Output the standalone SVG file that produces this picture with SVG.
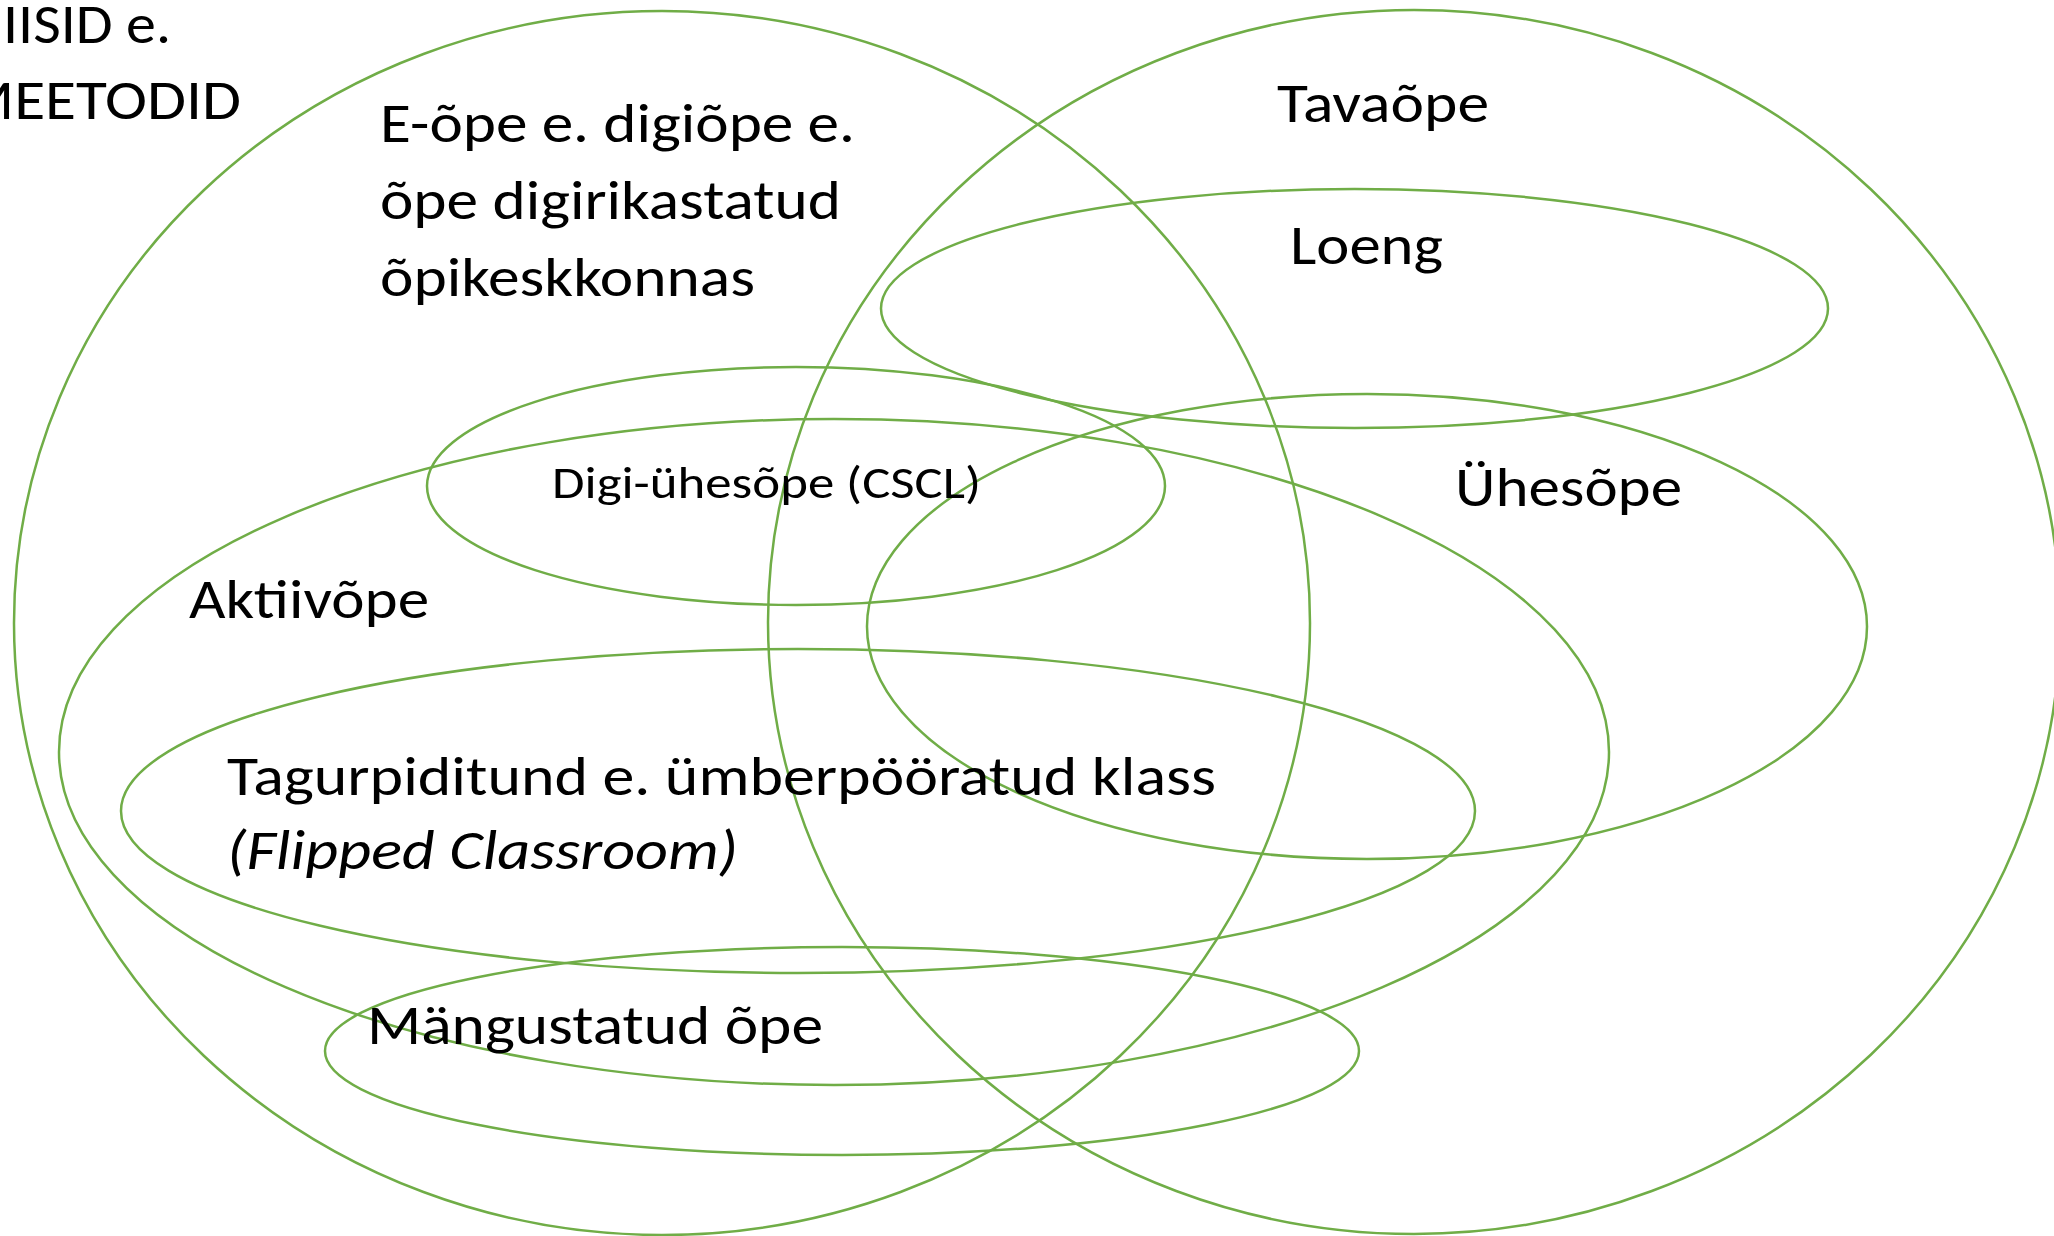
<svg xmlns="http://www.w3.org/2000/svg" width="2054" height="1236" viewBox="0 0 2054 1236">
  <style>
    .shape { fill: none; stroke: #70AD47; stroke-width: 2.5; }
    .lbl { font-family: Carlito, Calibri, Lato, sans-serif; font-size: 56px; fill: #000000; }
    .small { font-size: 45px; }
    .it { font-style: italic; }
  </style>
  <rect width="2054" height="1236" fill="#ffffff"/>
  <g id="nodes">
    <g id="e-ope"><ellipse class="shape" cx="662" cy="623" rx="648" ry="612"/></g>
    <g id="tavaope"><ellipse class="shape" cx="1414" cy="622" rx="646" ry="612"/></g>
    <g id="loeng"><ellipse class="shape" cx="1354.5" cy="308.5" rx="473.5" ry="119.5"/></g>
    <g id="digi-uhesope"><ellipse class="shape" cx="796" cy="486" rx="369" ry="119"/></g>
    <g id="uhesope"><ellipse class="shape" cx="1367" cy="626.5" rx="500" ry="232.5"/></g>
    <g id="aktiivope"><ellipse class="shape" cx="834" cy="752" rx="775" ry="333"/></g>
    <g id="tagurpiditund"><ellipse class="shape" cx="798" cy="811" rx="677" ry="162"/></g>
    <g id="mangustatud"><ellipse class="shape" cx="842" cy="1051" rx="517" ry="104"/></g>
  </g>
  <g id="connectors"/>
  <g id="labels">
    <g id="title-label">
      <text class="lbl" x="3" y="43" textLength="168" lengthAdjust="spacingAndGlyphs">IISID e.</text>
      <text class="lbl" x="-40" y="119" textLength="281" lengthAdjust="spacingAndGlyphs">MEETODID</text>
    </g>
    <g id="e-ope-label">
      <text class="lbl" x="380" y="142" textLength="475" lengthAdjust="spacingAndGlyphs">E-õpe e. digiõpe e.</text>
      <text class="lbl" x="380" y="219" textLength="461" lengthAdjust="spacingAndGlyphs">õpe digirikastatud</text>
      <text class="lbl" x="380" y="296" textLength="375" lengthAdjust="spacingAndGlyphs">õpikeskkonnas</text>
    </g>
    <text id="tavaope-label" class="lbl" x="1277" y="122" textLength="212" lengthAdjust="spacingAndGlyphs">Tavaõpe</text>
    <text id="loeng-label" class="lbl" x="1290" y="264" textLength="153" lengthAdjust="spacingAndGlyphs">Loeng</text>
    <text id="digi-label" class="lbl small" x="552" y="498" textLength="429" lengthAdjust="spacingAndGlyphs">Digi-ühesõpe (CSCL)</text>
    <text id="uhesope-label" class="lbl" x="1455" y="506" textLength="227" lengthAdjust="spacingAndGlyphs">Ühesõpe</text>
    <text id="aktiivope-label" class="lbl" x="189" y="618" textLength="240" lengthAdjust="spacingAndGlyphs">Aktiivõpe</text>
    <g id="tagurpiditund-label">
      <text class="lbl" x="227" y="795" textLength="989" lengthAdjust="spacingAndGlyphs">Tagurpiditund e. ümberpööratud klass</text>
      <text class="lbl it" x="227" y="869" textLength="511" lengthAdjust="spacingAndGlyphs">(Flipped Classroom)</text>
    </g>
    <text id="mangustatud-label" class="lbl" x="367" y="1044" textLength="456" lengthAdjust="spacingAndGlyphs">Mängustatud õpe</text>
  </g>
</svg>
